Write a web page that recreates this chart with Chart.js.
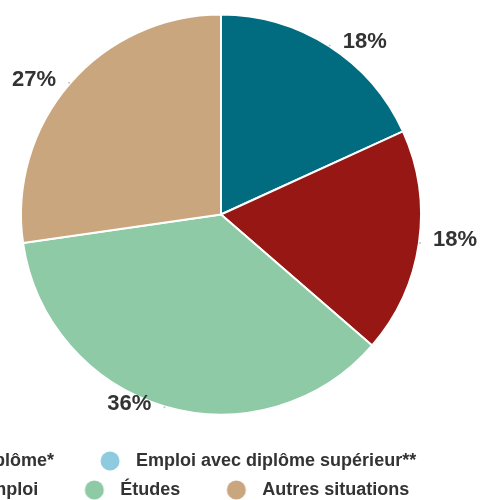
<!DOCTYPE html>
<html lang="fr">
<head>
<meta charset="utf-8">
<title>Situation</title>
<script src="https://cdn.jsdelivr.net/npm/chart.js@4/dist/chart.umd.min.js"></script>
<style>
  html, body { margin: 0; padding: 0; background: #ffffff; width: 480px; height: 500px; overflow: hidden; }
  #wrap { position: absolute; left: -214px; top: -12px; width: 870px; height: 521px; }
</style>
</head>
<body>
<div id="wrap"><canvas id="chart"></canvas></div>
<script>
// ---- data ----
const categories = [
  'Emploi avec diplôme*',
  'Emploi avec diplôme supérieur**',
  "Recherche d'emploi",
  'Études',
  'Autres situations'
];
const shares = [18.2, 0, 18.2, 36.4, 27.3];
const sliceColors = ['#016C80', '#8FCBDF', '#961713', '#8ECAA5', '#C9A67D'];

const FONT = "'Liberation Sans', Arial, Helvetica, sans-serif";
const TEXT = '#333333';

function circleMarker(color) {
  const c = document.createElement('canvas');
  c.width = 50; c.height = 22;
  const g = c.getContext('2d');
  g.fillStyle = color;
  g.beginPath();
  g.arc(25 + 14, 11, 9.5, 0, Math.PI * 2);
  g.fill();
  return c;
}

const pctLabels = {
  id: 'pctLabels',
  afterDatasetsDraw(chart) {
    const ctx = chart.ctx;
    const meta = chart.getDatasetMeta(0);
    const data = chart.data.datasets[0].data;
    const total = data.reduce((a, b) => a + b, 0);
    ctx.save();
    ctx.font = 'bold 22px ' + FONT;
    ctx.textBaseline = 'middle';
    meta.data.forEach((arc, i) => {
      const v = data[i];
      if (!v) return;
      const p = arc.getProps(['x', 'y', 'startAngle', 'endAngle', 'outerRadius'], true);
      const a = (p.startAngle + p.endAngle) / 2;
      const px = p.x + (p.outerRadius + 1) * Math.cos(a);
      const py = p.y + (p.outerRadius + 1) * Math.sin(a);
      const left = Math.cos(a) < 0;
      ctx.fillStyle = 'rgba(150,150,150,0.55)';
      ctx.beginPath();
      ctx.arc(px, py, 1, 0, Math.PI * 2);
      ctx.fill();
      ctx.fillStyle = TEXT;
      ctx.textAlign = left ? 'right' : 'left';
      ctx.fillText(Math.round(v / total * 100) + '%', px + (left ? -13 : 13), py - 3);
    });
    ctx.restore();
  }
};

new Chart(document.getElementById('chart'), {
  type: 'pie',
  data: {
    labels: categories,
    datasets: [{
      data: shares,
      backgroundColor: sliceColors,
      borderColor: '#ffffff',
      borderWidth: 2,
      radius: 200
    }]
  },
  options: {
    responsive: true,
    maintainAspectRatio: false,
    animation: false,
    events: [],
    layout: { padding: 0 },
    plugins: {
      tooltip: { enabled: false },
      legend: {
        position: 'bottom',
        align: 'start',
        labels: {
          usePointStyle: true,
          pointStyleWidth: 62,
          boxHeight: 18,
          padding: 11,
          color: TEXT,
          font: { family: FONT, size: 18, weight: 'bold' },
          generateLabels(chart) {
            const base = Chart.overrides.pie.plugins.legend.labels.generateLabels(chart);
            return base.map(it => Object.assign(it, { pointStyle: circleMarker(it.fillStyle) }));
          }
        }
      }
    }
  },
  plugins: [pctLabels]
});
</script>
</body>
</html>
